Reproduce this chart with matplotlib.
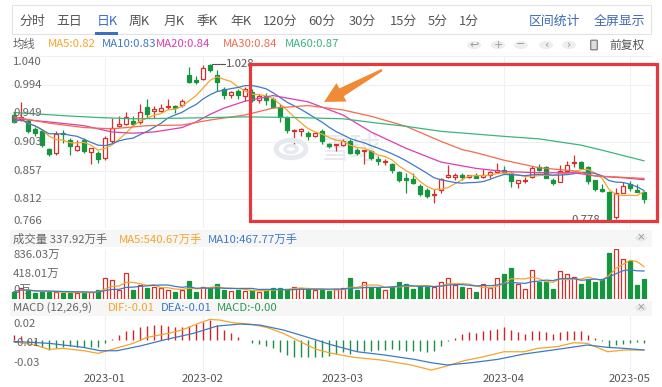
import numpy as np
import pandas as pd
import matplotlib
matplotlib.use('Agg')
import matplotlib.pyplot as plt
from matplotlib.patches import Rectangle, Polygon, Circle, FancyBboxPatch

plt.rcParams['font.family'] = ['Noto Sans CJK SC', 'DejaVu Sans']

W, H = 662, 387

# ---------------- data ----------------
opens = [0.946, 0.938, 0.937, 0.924, 0.921, 0.892, 0.885, 0.918, 0.906, 0.891,
         0.906, 0.887, 0.886, 0.878, 0.905, 0.929, 0.932, 0.937, 0.935, 0.959,
         0.953, 0.953, 0.958, 0.960, 0.962, 1.010, 1.002, 1.003, 1.026, 1.009,
         0.988, 0.978, 0.984, 0.976, 0.982, 0.970, 0.977, 0.972, 0.959, 0.941,
         0.920, 0.920, 0.917, 0.913, 0.921, 0.900, 0.898, 0.899, 0.905, 0.890,
         0.889, 0.888, 0.876, 0.871, 0.868, 0.855, 0.845, 0.844, 0.833, 0.827,
         0.818, 0.826, 0.848, 0.848, 0.851, 0.848, 0.850, 0.848, 0.851, 0.856,
         0.859, 0.854, 0.838, 0.841, 0.848, 0.863, 0.863, 0.843, 0.840, 0.857,
         0.869, 0.871, 0.863, 0.842, 0.828, 0.824, 0.783, 0.822, 0.836, 0.826,
         0.824]
highs = [0.951, 0.967, 0.940, 0.927, 0.923, 0.894, 0.920, 0.922, 0.909, 0.906,
         0.909, 0.894, 0.888, 0.913, 0.941, 0.944, 0.950, 0.945, 0.963, 0.971,
         0.961, 0.963, 0.971, 0.962, 0.971, 1.023, 1.008, 1.025, 1.028, 1.018,
         0.991, 0.984, 0.988, 0.990, 0.988, 0.979, 0.981, 0.974, 0.964, 0.944,
         0.923, 0.926, 0.920, 0.919, 0.923, 0.902, 0.900, 0.907, 0.907, 0.893,
         0.891, 0.890, 0.880, 0.876, 0.870, 0.857, 0.854, 0.854, 0.836, 0.830,
         0.828, 0.845, 0.866, 0.853, 0.854, 0.851, 0.853, 0.860, 0.857, 0.870,
         0.864, 0.856, 0.842, 0.847, 0.865, 0.868, 0.865, 0.845, 0.867, 0.872,
         0.883, 0.873, 0.865, 0.843, 0.836, 0.825, 0.830, 0.840, 0.841, 0.836,
         0.825]
lows = [0.933, 0.936, 0.917, 0.912, 0.895, 0.880, 0.882, 0.901, 0.882, 0.888,
        0.886, 0.868, 0.869, 0.875, 0.902, 0.927, 0.930, 0.929, 0.932, 0.941,
        0.941, 0.950, 0.956, 0.949, 0.958, 0.997, 0.995, 1.001, 1.015, 0.984,
        0.971, 0.973, 0.972, 0.969, 0.967, 0.965, 0.962, 0.957, 0.935, 0.918,
        0.899, 0.912, 0.906, 0.911, 0.900, 0.893, 0.888, 0.896, 0.884, 0.882,
        0.868, 0.875, 0.866, 0.867, 0.853, 0.840, 0.821, 0.836, 0.817, 0.814,
        0.806, 0.822, 0.846, 0.843, 0.843, 0.845, 0.846, 0.845, 0.845, 0.854,
        0.853, 0.832, 0.829, 0.838, 0.846, 0.857, 0.845, 0.834, 0.839, 0.855,
        0.863, 0.860, 0.836, 0.825, 0.824, 0.778, 0.780, 0.821, 0.825, 0.823,
        0.806]
closes = [0.935, 0.943, 0.920, 0.917, 0.898, 0.884, 0.916, 0.915, 0.896, 0.897,
          0.888, 0.893, 0.876, 0.910, 0.925, 0.932, 0.943, 0.932, 0.951, 0.947,
          0.955, 0.957, 0.961, 0.957, 0.968, 0.999, 0.999, 1.021, 1.018, 0.998,
          0.978, 0.982, 0.978, 0.987, 0.970, 0.976, 0.970, 0.958, 0.943, 0.922,
          0.922, 0.923, 0.912, 0.917, 0.904, 0.896, 0.900, 0.904, 0.886, 0.885,
          0.891, 0.878, 0.872, 0.873, 0.858, 0.843, 0.842, 0.838, 0.820, 0.817,
          0.820, 0.844, 0.851, 0.851, 0.848, 0.851, 0.846, 0.851, 0.856, 0.859,
          0.856, 0.841, 0.842, 0.843, 0.862, 0.859, 0.846, 0.838, 0.857, 0.866,
          0.871, 0.862, 0.841, 0.828, 0.825, 0.781, 0.822, 0.833, 0.829, 0.824,
          0.812]
volumes = [122, 178, 150, 95, 122, 122, 122, 95, 106, 95,
           122, 122, 150, 345, 317, 150, 429, 150, 234, 178,
           206, 178, 150, 122, 150, 301, 122, 206, 178, 245,
           150, 134, 150, 134, 150, 122, 150, 190, 178, 160,
           206, 178, 160, 150, 150, 134, 167, 178, 345, 150,
           290, 206, 178, 150, 206, 279, 245, 167, 223, 206,
           206, 290, 345, 234, 206, 178, 122, 245, 178, 345,
           412, 513, 245, 167, 485, 279, 290, 167, 468, 412,
           373, 245, 334, 290, 334, 771.35, 836.03, 663.5, 631.9, 234.0,
           337.92]
macd_hist = [0.0049, 0.0039, -0.0030, -0.0050, -0.0065, -0.0100, -0.0082, -0.0065, -0.0060, -0.0065,
             -0.0072, -0.0065, -0.0072, -0.0033, 0.0007, 0.0050, 0.0092, 0.0098, 0.0124, 0.0137,
             0.0147, 0.0147, 0.0137, 0.0130, 0.0130, 0.0137, 0.0157, 0.0180, 0.0196, 0.0147,
             0.0098, 0.0065, 0.0033, 0.0005, -0.0033, -0.0040, -0.0060, -0.0082, -0.0114, -0.0147,
             -0.0164, -0.0170, -0.0170, -0.0170, -0.0170, -0.0157, -0.0137, -0.0121, -0.0137, -0.0105,
             -0.0105, -0.0105, -0.0098, -0.0098, -0.0088, -0.0098, -0.0105, -0.0105, -0.0111, -0.0121,
             -0.0105, -0.0056, -0.0008, 0.0020, 0.0059, 0.0075, 0.0065, 0.0092, 0.0098, 0.0108,
             0.0124, 0.0098, 0.0075, 0.0059, 0.0085, 0.0092, 0.0075, 0.0059, 0.0075, 0.0085,
             0.0092, 0.0092, 0.0052, 0.0020, -0.0013, -0.0072, -0.0046, -0.0039, -0.0033, -0.0023,
             -0.0033]

dif_idx = [0, 3, 5, 7, 10, 12, 14, 17, 19, 22, 24, 26.6, 28, 29.4, 31.3, 33.7, 36.1, 38.5, 40.9, 43.2,
           45.2, 48.6, 52.4, 56.7, 59.6, 61.5, 64.3, 66.7, 70, 72.9, 74.8, 77.6, 80, 81.9, 84.8, 87.2, 90]
dif_val = [-0.0016, -0.0049, -0.0092, -0.0082, -0.0105, -0.0131, -0.0092, -0.0033, 0.0026, 0.0065,
           0.0098, 0.0170, 0.0203, 0.0196, 0.0170, 0.0157, 0.0124, 0.0065, -0.0016, -0.0092,
           -0.0128, -0.0170, -0.0196, -0.0245, -0.0295, -0.0262, -0.0203, -0.0170, -0.0115, -0.0115,
           -0.0082, -0.0065, -0.0026, -0.0033, -0.0115, -0.0098, -0.0098]
dea_idx = [0, 5.1, 9.9, 12.3, 14.7, 18, 21.8, 25.6, 29, 32.3, 35.1, 38.5, 40.9, 43.2, 45.2,
           49, 52.9, 57.2, 59.6, 61.9, 65.3, 69.1, 72.9, 77.6, 81.9, 84.8, 87.2, 90]
dea_val = [-0.0014, -0.0033, -0.0072, -0.0105, -0.0105, -0.0059, 0.0007, 0.0065, 0.0137, 0.0157,
           0.0147, 0.0098, 0.0049, 0.0000, -0.0044, -0.0115, -0.0147, -0.0190, -0.0223, -0.0245,
           -0.0223, -0.0190, -0.0137, -0.0092, -0.0049, -0.0072, -0.0082, -0.0098]

ma20_idx = [0, 5, 10, 14, 17, 20, 24, 26, 28, 30, 33, 37, 42, 47, 51, 56, 61, 66, 70, 75, 80, 83, 87, 90]
ma20_val = [0.940, 0.935, 0.929, 0.919, 0.917, 0.919, 0.926, 0.935, 0.947, 0.957, 0.968, 0.977,
            0.967, 0.946, 0.919, 0.893, 0.871, 0.861, 0.856, 0.854, 0.854, 0.849, 0.846, 0.843]
ma30_idx = [0, 5, 10, 14, 19, 24, 28, 33, 37, 42, 47, 51, 56, 61, 64, 66, 70, 75, 80, 83, 90]
ma30_val = [0.943, 0.933, 0.926, 0.924, 0.929, 0.930, 0.938, 0.946, 0.957, 0.961, 0.954, 0.944,
            0.928, 0.904, 0.891, 0.886, 0.874, 0.862, 0.857, 0.849, 0.845]
ma60_idx = [0, 7, 12, 17, 24, 33, 40, 47, 52, 56, 61, 70, 75, 81, 84, 90]
ma60_val = [0.950, 0.945, 0.942, 0.940, 0.941, 0.943, 0.942, 0.940, 0.933, 0.928, 0.920,
            0.912, 0.908, 0.898, 0.890, 0.873]

price_ticks = [1.040, 0.994, 0.949, 0.903, 0.857, 0.812, 0.766]
price_tick_labels = ['1.040', '0.994', '0.949', '0.903', '0.857', '0.812', '0.766']
vol_ticks = [836.03, 418.01, 0]
vol_tick_labels = ['836.03万', '418.01万', '0万']
macd_ticks = [0.0157, -0.0032, -0.0228]
macd_tick_labels = ['0.02', '-0.01', '-0.03']
date_pos = [13, 27, 47, 70, 88]
date_labels = ['2023-01', '2023-02', '2023-03', '2023-04', '2023-05']
tabs = ['分时', '五日', '日K', '周K', '月K', '季K', '年K', '120分', '60分', '30分', '15分', '5分', '1分']
max_label, min_label = '1.028', '0.778'

# ---------------- styles ----------------
RED = '#d3302c'
GREEN = '#15963e'
C_MA5, C_MA10, C_MA20, C_MA30, C_MA60 = '#f5a52a', '#3f79c6', '#dc3cb1', '#f26c4c', '#3ab57d'
GRID = '#f0f0f0'
TXT = '#666666'

fig = plt.figure(figsize=(W / 100, H / 100), dpi=100)
fig.patch.set_facecolor('white')


def P(x, y):
    return (x / W, 1 - y / H)


def add_ax(x0, y0, x1, y1):
    a = fig.add_axes([x0 / W, 1 - y1 / H, (x1 - x0) / W, (y1 - y0) / H])
    for s in a.spines.values():
        s.set_visible(False)
    a.set_xticks([])
    a.set_yticks([])
    a.set_facecolor('none')
    return a


def ftext(x, y, s, **kw):
    kw.setdefault('va', 'center')
    kw.setdefault('ha', 'left')
    fig.text(x / W, 1 - y / H, s, **kw)


# ---------------- header: tabs ----------------
fig.add_artist(Rectangle(P(12, 34), 639 / W, 29 / H, transform=fig.transFigure,
                         facecolor='white', edgecolor='#e2e2e2', lw=0.8))
tab_x = [32, 69, 107, 139, 174, 207, 241, 280, 322, 362, 403, 438, 469]
for t, xc in zip(tabs, tab_x):
    ftext(xc, 21, t, ha='center', fontsize=9.3, color='#3a6fc4' if t == '日K' else '#555555')
fig.add_artist(Rectangle(P(95, 34.5), 23 / W, 2 / H, transform=fig.transFigure,
                         facecolor='#3a6fc4', edgecolor='none'))
ftext(554, 21, '区间统计', ha='center', fontsize=9.3, color='#3f68b5')
ftext(619, 21, '全屏显示', ha='center', fontsize=9.3, color='#3f68b5')

# legend row
ftext(13, 44, '均线', fontsize=8.2, color=TXT)
ma5 = pd.Series(closes).rolling(5, min_periods=1).mean()
ma10 = pd.Series(closes).rolling(10, min_periods=1).mean()
leg = [(48, f'MA5:{ma5.iloc[-1]:.2f}', C_MA5), (102, f'MA10:{ma10.iloc[-1]:.2f}', C_MA10),
       (156, f'MA20:{ma20_val[-1]:.2f}', C_MA20), (223, f'MA30:{ma30_val[-1]:.2f}', C_MA30),
       (285, f'MA60:{ma60_val[-1]:.2f}', C_MA60)]
for xx, s, col in leg:
    ftext(xx, 44, s, fontsize=8.2, color=col)
icons = ['↩', '+', '−', '‹', '›']
for xc, sym in zip([474, 498, 521, 546, 569], icons):
    fig.add_artist(Circle(P(xc, 45), 7 / W, transform=fig.transFigure,
                          facecolor='#eeeeee', edgecolor='none'))
    ftext(xc, 44.5, sym, ha='center', fontsize=8, color='#9a9a9a', family='DejaVu Sans')
fig.add_artist(FancyBboxPatch(P(592, 49), 4 / W, 8 / H, boxstyle='round,pad=0.002',
                              transform=fig.transFigure, facecolor='#dddddd', edgecolor='#888888', lw=1))
ftext(609, 45, '前复权', fontsize=8.5, color='#555555')

# ---------------- main price panel ----------------
x = np.arange(len(closes))
o = np.array(opens); c = np.array(closes); hi = np.array(highs); lo = np.array(lows)
up = c >= o
cols = np.where(up, RED, GREEN)
XL = ((10 - 14) / 7, (652 - 14) / 7)

ax = add_ax(10, 56, 652, 228)
ax.set_xlim(*XL)
ax.set_ylim(0.766, 1.040)
for v in price_ticks:
    ax.axhline(v, color=GRID, lw=0.8, zorder=0)
for p in date_pos:
    ax.axvline(p, color=GRID, lw=0.8, zorder=0)
# watermark (logo ring + text), placed in figure pixels
fig.add_artist(Circle(P(291, 149), 15 / W, transform=fig.transFigure, facecolor='none',
                      edgecolor='#e6e9ef', lw=3.5, zorder=0.5))
fig.add_artist(Circle(P(291, 149), 6 / W, transform=fig.transFigure, facecolor='none',
                      edgecolor='#e6e9ef', lw=2.5, zorder=0.5))
ax.text((350 - 10) / 642, (228 - 150) / 172, '雪球', transform=ax.transAxes, fontsize=22,
        color='#e6e9ef', ha='center', va='center', zorder=1)
ax.vlines(x, lo, hi, colors=cols, lw=0.9, zorder=3)
bh = np.maximum(np.abs(c - o), 0.0012)
ax.bar(x, bh, bottom=np.minimum(o, c), width=0.68, color=np.where(up, 'white', GREEN),
       edgecolor=cols, linewidth=0.9, zorder=4)
ax.plot(x, ma5, color=C_MA5, lw=0.9, zorder=5)
ax.plot(x, ma10, color=C_MA10, lw=0.9, zorder=5)
ax.plot(ma20_idx, ma20_val, color=C_MA20, lw=0.9, zorder=5)
ax.plot(ma30_idx, ma30_val, color=C_MA30, lw=0.9, zorder=5)
ax.plot(ma60_idx, ma60_val, color=C_MA60, lw=0.9, zorder=5)
ytr = ax.get_yaxis_transform()
for i, (v, s) in enumerate(zip(price_ticks, price_tick_labels)):
    va = 'top' if i == 0 else ('bottom' if i == len(price_ticks) - 1 else 'center')
    off = -0.002 if i == 0 else (0.003 if va == 'bottom' else 0)
    ax.text(0.005, v + off, s, transform=ytr, fontsize=8.2, color=TXT, va=va, ha='left', zorder=6)
imax = int(np.argmax(hi)); imin = int(np.argmin(lo))
ax.plot([imax + 0.3, imax + 2.2], [hi[imax], hi[imax]], color='#555555', lw=0.8, zorder=6)
ax.text(imax + 2.3, hi[imax], max_label, fontsize=8.2, color='#555555', va='center', ha='left', zorder=6)
ax.plot([imin - 1.1, imin - 0.3], [lo[imin], lo[imin]], color='#555555', lw=0.8, zorder=6)
ax.text(imin - 1.2, lo[imin] + 0.001, min_label, fontsize=8.2, color='#555555', va='center', ha='right', zorder=6)

# ---------------- volume panel ----------------
fig.add_artist(Rectangle(P(10, 247), 642 / W, 17 / H, transform=fig.transFigure,
                         facecolor='#f6f6f6', edgecolor='none'))
vol_total = volumes[-1]
vma5 = pd.Series(volumes).rolling(5, min_periods=1).mean()
vma10 = pd.Series(volumes).rolling(10, min_periods=1).mean()
ftext(13, 239, f'成交量 {vol_total:.2f}万手', fontsize=8.2, color=TXT)
ftext(119, 239, f'MA5:{vma5.iloc[-1]:.2f}万手', fontsize=8.2, color=C_MA5)
ftext(208, 239, f'MA10:{vma10.iloc[-1]:.2f}万手', fontsize=8.2, color=C_MA10)
fig.add_artist(Circle(P(641, 238), 6 / W, transform=fig.transFigure, facecolor='#e9e9e9', edgecolor='none'))
ftext(641, 237.5, '×', ha='center', fontsize=7.5, color='#999999', family='DejaVu Sans')

axv = add_ax(10, 249, 652, 299)
axv.set_xlim(*XL)
axv.set_ylim(0, max(vol_ticks))
for p in date_pos:
    axv.axvline(p, color=GRID, lw=0.8, zorder=0)
ytr = axv.get_yaxis_transform()
for i, (v, s) in enumerate(zip(vol_ticks, vol_tick_labels)):
    va = 'top' if i == 0 else ('bottom' if i == len(vol_ticks) - 1 else 'center')
    off = -20 if i == 0 else (70 if va == 'bottom' else 0)
    axv.text(0.005, v + off, s, transform=ytr, fontsize=8.2, color=TXT, va=va, ha='left', zorder=1)
axv.bar(x, volumes, width=0.68, color=np.where(up, 'white', GREEN), edgecolor=cols,
        linewidth=0.9, zorder=3)
axv.plot(x, vma5, color=C_MA5, lw=0.9, zorder=4)
axv.plot(x, vma10, color=C_MA10, lw=0.9, zorder=4)

# ---------------- MACD panel ----------------
fig.add_artist(Rectangle(P(10, 316), 642 / W, 15 / H, transform=fig.transFigure,
                         facecolor='#f6f6f6', edgecolor='none'))
ftext(13, 308, 'MACD (12,26,9)', fontsize=8.2, color=TXT)
ftext(108, 308, f'DIF:{dif_val[-1]:.2f}', fontsize=8.2, color=C_MA5)
ftext(161, 308, f'DEA:{dea_val[-1]:.2f}', fontsize=8.2, color=C_MA10)
ftext(217, 308, f'MACD:{macd_hist[-1]:.2f}', fontsize=8.2, color='#2a9a55')
fig.add_artist(Circle(P(641, 308), 6 / W, transform=fig.transFigure, facecolor='#e9e9e9', edgecolor='none'))
ftext(641, 307.5, '×', ha='center', fontsize=7.5, color='#999999', family='DejaVu Sans')

axm = add_ax(10, 316, 652, 372)
axm.set_xlim(*XL)
axm.set_ylim(-0.0314, 0.0236)
for p in date_pos:
    axm.axvline(p, color=GRID, lw=0.8, zorder=0)
hist = np.array(macd_hist)
axm.vlines(x, 0, hist, colors=np.where(hist >= 0, '#c9262a', '#1b8f45'), lw=1.0, zorder=3)
axm.plot(dif_idx, dif_val, color=C_MA5, lw=0.9, zorder=4)
axm.plot(dea_idx, dea_val, color=C_MA10, lw=0.9, zorder=4)
ytr = axm.get_yaxis_transform()
for v, s in zip(macd_ticks, macd_tick_labels):
    axm.text(0.005, v, s, transform=ytr, fontsize=8.2, color=TXT, va='center', ha='left', zorder=5)
axm.set_xticks(date_pos)
axm.set_xticklabels(date_labels, fontsize=8.2, color='#555555')
axm.tick_params(axis='x', length=0, pad=1.5)

# ---------------- annotations ----------------
fig.add_artist(Rectangle(P(250, 221), 407 / W, 157 / H, transform=fig.transFigure,
                         facecolor='none', edgecolor='#e8383b', lw=2.3, zorder=10))
T = np.array([382.0, 70.0]); tip = np.array([324.0, 102.0])
u = (tip - T) / np.linalg.norm(tip - T)
n = np.array([-u[1], u[0]])
B = tip - u * 20
pts = [T + n * 1.2, B + n * 4.5, B + n * 10.5, tip, B - n * 10.5, B - n * 4.5, T - n * 1.2]
fig.add_artist(Polygon([P(*q) for q in pts], closed=True, transform=fig.transFigure,
                       facecolor='#f08a36', edgecolor='none', zorder=11))

fig.savefig('out.png', dpi=100, facecolor='white')
